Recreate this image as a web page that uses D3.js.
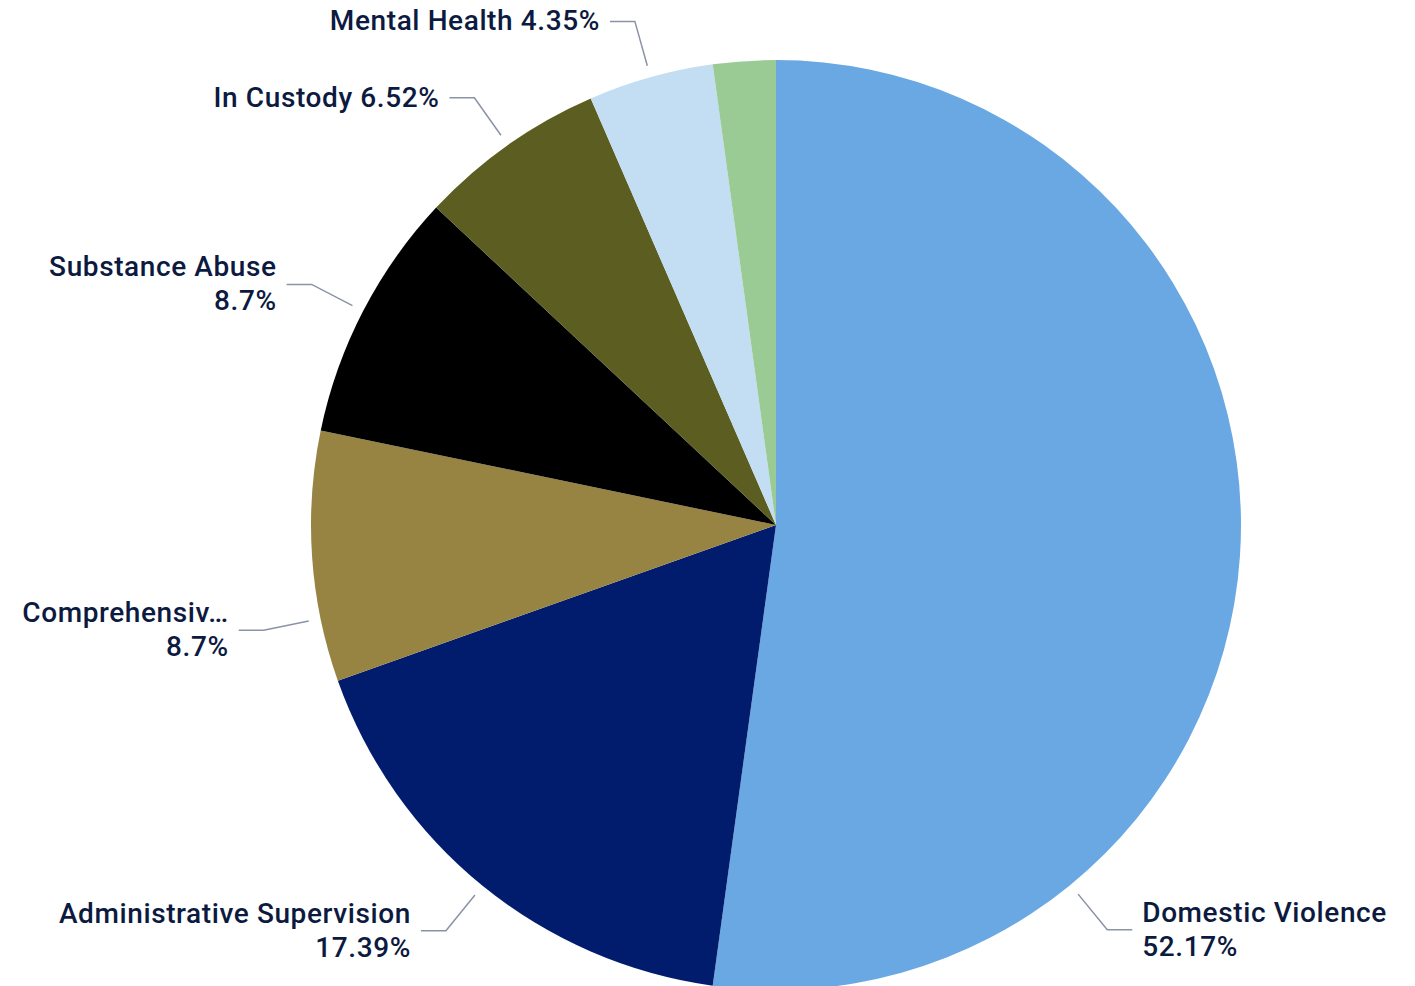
<!DOCTYPE html>
<html>
<head>
<meta charset="utf-8">
<script src="https://cdn.jsdelivr.net/npm/d3@7"></script>
<style>
  html, body { margin: 0; padding: 0; background: #fff; }
  svg { display: block; }
  .label { font-family: Roboto, "Noto Sans", sans-serif; font-size: 28px; font-weight: 500; letter-spacing: 0.6px; fill: #0c1a40; }
</style>
</head>
<body>
<svg id="chart" width="1415" height="986"></svg>
<script>
// data
var categories = ["Domestic Violence", "Administrative Supervision", "Comprehensiv…", "Substance Abuse", "In Custody", "Mental Health", "Other"];
var values = [24, 8, 4, 4, 3, 2, 1];
var pctLabels = ["52.17%", "17.39%", "8.7%", "8.7%", "6.52%", "4.35%", ""];
var colors = ["#69a8e2", "#011c6c", "#978443", "#000000", "#5b5e20", "#c3ddf3", "#9bcb95"];

// labels shown on one line, and labels Power BI pushed off the slice middle
var singleLine = ["Mental Health", "In Custody"];
var angleOverride = { "Domestic Violence": 140.7, "Comprehensiv…": 258.4 };

var svg = d3.select("#chart");
var cx = 776, cy = 525, radius = 465;

var g = svg.append("g")
    .attr("transform", "translate(" + cx + "," + cy + ")");

var data = categories.map(function(c, i) {
    return { name: c, value: values[i], pct: pctLabels[i], color: colors[i] };
});

var pie = d3.pie()
    .sort(null)
    .value(function(d) { return d.value; });

var arc = d3.arc()
    .innerRadius(0)
    .outerRadius(radius);

var arcs = pie(data);

g.selectAll("path.slice")
    .data(arcs)
    .enter().append("path")
    .attr("class", "slice")
    .attr("d", arc)
    .style("fill", function(d) { return d.data.color; });

function point(angle, r) {
    return [r * Math.sin(angle), -r * Math.cos(angle)];
}

arcs.forEach(function(d) {
    if (!d.data.pct) return;
    var a = (d.startAngle + d.endAngle) / 2;
    if (angleOverride[d.data.name] !== undefined) a = angleOverride[d.data.name] * Math.PI / 180;
    var p0 = point(a, radius + 12);
    var p1 = point(a, radius + 58);
    var side = Math.sin(a) >= 0 ? 1 : -1;
    var p2 = [p1[0] + side * 25, p1[1]];

    g.append("path")
        .attr("d", d3.line()([p0, p1, p2]))
        .style("fill", "none")
        .style("stroke", "#8a93a6")
        .style("stroke-width", 1.5);

    var t = g.append("text")
        .attr("class", "label")
        .attr("text-anchor", side > 0 ? "start" : "end")
        .attr("x", p2[0] + side * 10);

    if (singleLine.indexOf(d.data.name) >= 0) {
        t.attr("y", p2[1] + 9).text(d.data.name + " " + d.data.pct);
    } else {
        t.append("tspan").attr("x", p2[0] + side * 10).attr("y", p2[1] - 8).text(d.data.name);
        t.append("tspan").attr("x", p2[0] + side * 10).attr("y", p2[1] + 26).text(d.data.pct);
    }
});
</script>
</body>
</html>
